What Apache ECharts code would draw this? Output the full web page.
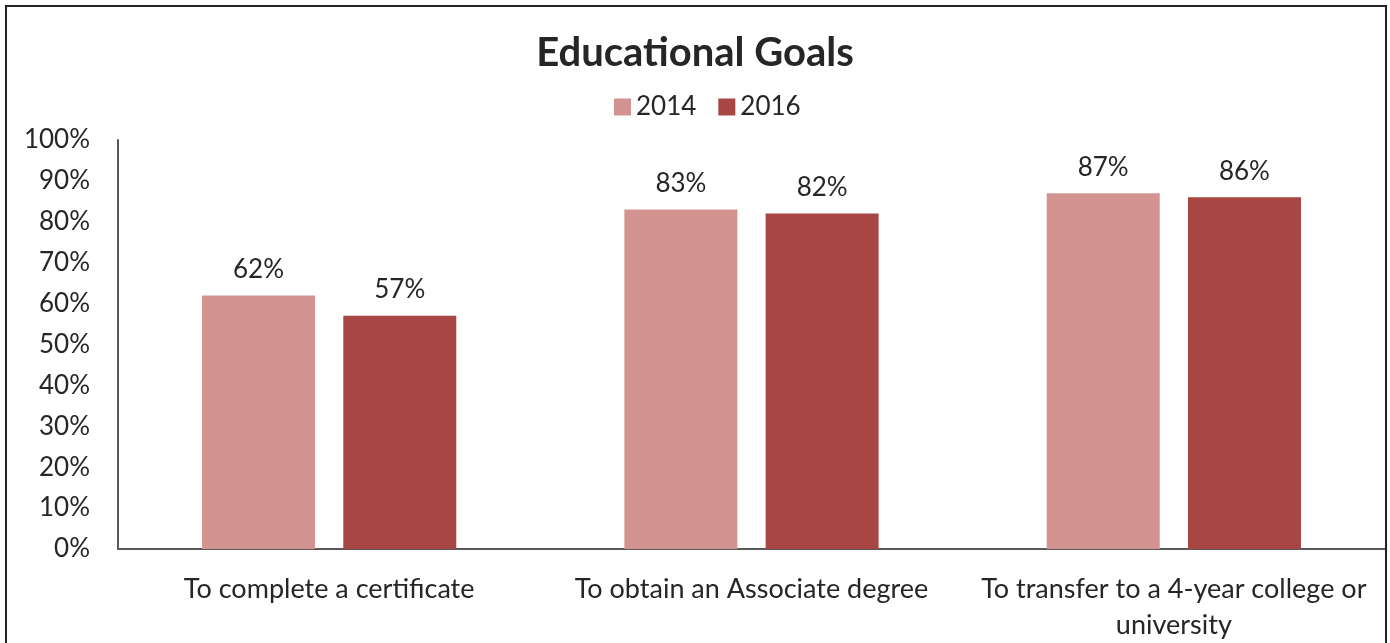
<!DOCTYPE html>
<html>
<head>
<meta charset="utf-8">
<script src="https://cdn.jsdelivr.net/npm/echarts@6/dist/echarts.min.js"></script>
<style>
  html, body { margin: 0; padding: 0; background: #ffffff; }
  #chart { width: 1390px; height: 643px; }
</style>
</head>
<body>
<div id="chart"></div>
<script>
// Survey responses: share of students reporting each goal
const categories = [
  'To complete a certificate',
  'To obtain an Associate degree',
  'To transfer to a 4-year college or\nuniversity'
];
const seriesNames = ['2014', '2016'];
const values2014 = [62, 83, 87];
const values2016 = [57, 82, 86];
const yTicks = { min: 0, max: 100, interval: 10 };

const FONT = 'Lato, "Open Sans", sans-serif';
const TEXT = '#262626';
const COLORS = ['#D29391', '#A84644'];

const chart = echarts.init(document.getElementById('chart'));

function barSeries(name, data, color) {
  return {
    name: name,
    type: 'bar',
    data: data,
    barWidth: 113,
    barGap: '25%',
    itemStyle: { color: color },
    label: {
      show: true,
      position: 'top',
      distance: 13,
      formatter: '{c}%',
      fontFamily: FONT,
      fontSize: 26,
      color: TEXT
    }
  };
}

chart.setOption({
  animation: false,
  backgroundColor: '#ffffff',
  title: {
    text: 'Educational Goals',
    left: 'center',
    top: 28,
    textStyle: { fontFamily: FONT, fontSize: 40, fontWeight: 'bold', color: TEXT }
  },
  legend: {
    data: seriesNames,
    top: 89,
    left: 609,
    icon: 'rect',
    itemWidth: 17,
    itemHeight: 17,
    itemGap: 22,
    textStyle: { fontFamily: FONT, fontSize: 26, color: TEXT }
  },
  grid: { left: 118, right: 5, top: 140, bottom: 94, containLabel: false },
  xAxis: {
    type: 'category',
    data: categories,
    axisLine: { lineStyle: { color: '#595959', width: 2 } },
    axisTick: { show: false },
    axisLabel: {
      fontFamily: FONT, fontSize: 27, color: TEXT,
      margin: 22, lineHeight: 36, interval: 0
    }
  },
  yAxis: {
    type: 'value',
    min: yTicks.min,
    max: yTicks.max,
    interval: yTicks.interval,
    axisLine: { show: true, lineStyle: { color: '#595959', width: 2 } },
    axisTick: { show: false },
    splitLine: { show: false },
    axisLabel: {
      fontFamily: FONT, fontSize: 26, color: TEXT,
      margin: 28, formatter: '{value}%'
    }
  },
  graphic: [{
    type: 'rect',
    shape: { x: 6, y: 6, width: 1380, height: 700 },
    style: { fill: 'none', stroke: '#222222', lineWidth: 2 },
    silent: true,
    z: 100
  }],
  series: [
    barSeries(seriesNames[0], values2014, COLORS[0]),
    barSeries(seriesNames[1], values2016, COLORS[1])
  ]
});
</script>
</body>
</html>
